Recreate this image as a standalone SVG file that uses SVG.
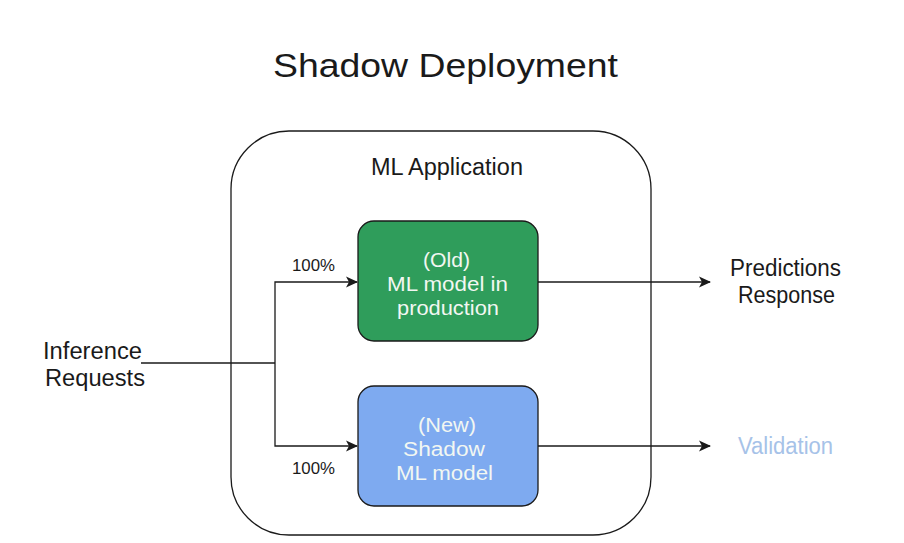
<svg xmlns="http://www.w3.org/2000/svg" width="904" height="543" viewBox="0 0 904 543">
<style>
text{font-family:"Liberation Sans",Arial,sans-serif;fill:#1a1a1a}
.box{stroke:#1a1a1a;stroke-width:1.3}
.w{fill:#f2f7f2;font-size:20px}
.c{stroke:#1a1a1a;stroke-width:1.3;fill:none}
.l{font-size:23px}
.p{font-size:16px}
</style>
<defs>
<marker id="a" markerWidth="12" markerHeight="12" refX="11" refY="6" orient="auto" markerUnits="userSpaceOnUse">
<path d="M0,0.5 L12,6 L0,11.5 L3,6 Z" fill="#1a1a1a"/>
</marker>
</defs>
<rect width="904" height="543" fill="#fff"/>
<text x="273" y="77" font-size="34" textLength="345" lengthAdjust="spacingAndGlyphs">Shadow Deployment</text>
<g id="app">
<rect class="box" x="231" y="131" width="420" height="404" rx="58" fill="none"/>
<text x="371" y="175" class="l" textLength="152" lengthAdjust="spacingAndGlyphs">ML Application</text>
</g>
<g id="old">
<rect class="box" x="358" y="221" width="180" height="120" rx="16" fill="#2f9d5b"/>
<text class="w" x="423" y="267" textLength="47" lengthAdjust="spacingAndGlyphs">(Old)</text>
<text class="w" x="387" y="291" textLength="121" lengthAdjust="spacingAndGlyphs">ML model in</text>
<text class="w" x="397" y="315" textLength="102" lengthAdjust="spacingAndGlyphs">production</text>
</g>
<g id="new">
<rect class="box" x="358" y="386" width="180" height="120" rx="16" fill="#7eaaf0"/>
<text class="w" x="418" y="432" textLength="58" lengthAdjust="spacingAndGlyphs">(New)</text>
<text class="w" x="403" y="456" textLength="82" lengthAdjust="spacingAndGlyphs">Shadow</text>
<text class="w" x="396" y="480" textLength="97" lengthAdjust="spacingAndGlyphs">ML model</text>
</g>
<g id="inference">
<text class="l" x="43" y="359" textLength="99" lengthAdjust="spacingAndGlyphs">Inference</text>
<text class="l" x="45" y="386" textLength="100" lengthAdjust="spacingAndGlyphs">Requests</text>
</g>
<g id="predictions">
<text class="l" x="730" y="276" textLength="111" lengthAdjust="spacingAndGlyphs">Predictions</text>
<text class="l" x="738" y="303" textLength="97" lengthAdjust="spacingAndGlyphs">Response</text>
</g>
<g id="validation"><text class="l" x="738" y="454" textLength="95" lengthAdjust="spacingAndGlyphs" style="fill:#a6c2e8">Validation</text></g>
<g id="connectors">
<path class="c" d="M141,363 H275"/>
<path class="c" d="M275,363 V282 H357" marker-end="url(#a)"/>
<path class="c" d="M275,363 V446 H357" marker-end="url(#a)"/>
<path class="c" d="M538,282 H710" marker-end="url(#a)"/>
<path class="c" d="M538,446 H710" marker-end="url(#a)"/>
<text class="p" x="292" y="271" textLength="43" lengthAdjust="spacingAndGlyphs">100%</text>
<text class="p" x="292" y="474" textLength="43" lengthAdjust="spacingAndGlyphs">100%</text>
</g>
</svg>
